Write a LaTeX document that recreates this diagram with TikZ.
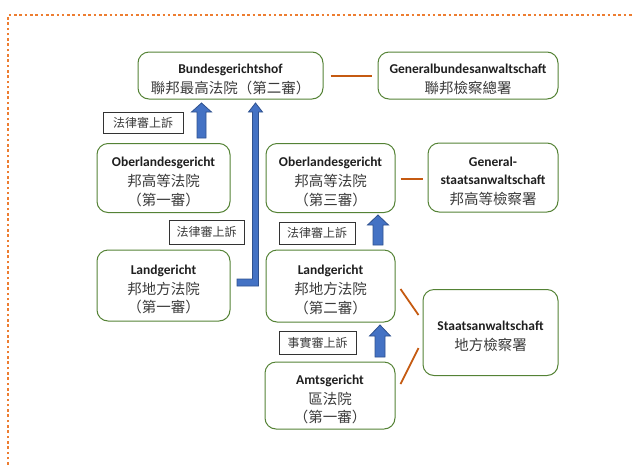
\documentclass[tikz,border=0pt]{standalone}
\usepackage{fontspec}
\setmainfont{Carlito}
\newfontfamily\cjk{Noto Sans CJK TC}
\usetikzlibrary{calc}
\definecolor{boxgreen}{HTML}{548235}
\definecolor{brownline}{HTML}{C55A11}
\definecolor{arrowfill}{HTML}{4472C4}
\definecolor{arrowedge}{HTML}{2F528F}
\definecolor{framecol}{HTML}{ED7D31}
\definecolor{txt}{HTML}{1F1F1F}
\definecolor{zhtxt}{HTML}{3A3A3A}
\newcommand\blkarrow[6]{%
  \filldraw[blk] (#1-#4,#2) -- (#1-#4,#3+#6) -- (#1-#5,#3+#6) -- (#1,#3) -- (#1+#5,#3+#6) -- (#1+#4,#3+#6) -- (#1+#4,#2) -- cycle;}
\tikzset{
  court/.style={draw=boxgreen, line width=1pt, rounded corners=11pt, align=center, text=txt, inner sep=0pt,
    font=\fontsize{13.5}{18.5}\selectfont\bfseries},
  lbl/.style={draw=black!80, line width=0.8pt, text=zhtxt, inner sep=0pt, font=\cjk\fontsize{12}{14}\selectfont},
  brn/.style={draw=brownline, line width=1.8pt},
  blk/.style={fill=arrowfill, draw=arrowedge, line width=0.8pt, line join=miter}
}
\newcommand\zh[1]{{\cjk\mdseries\color{zhtxt}\fontsize{14.5}{18.5}\selectfont #1}}
\newcommand\gl[1]{\rule{0pt}{17pt}#1\\[1.5pt]}
\begin{document}
\begin{tikzpicture}[x=1pt,y=-1pt]
\useasboundingbox (0,0) rectangle (634,464);
% dotted frame
\draw[framecol, line width=2.6pt, dash pattern=on 2.6pt off 2.7pt] (8,470) -- (8,15) -- (640,15);

% courts
\node[court, minimum width=185pt, minimum height=47pt] (bgh) at (230.5,75.5) {\gl{Bundesgerichtshof}\zh{聯邦最高法院（第二審）}};
\node[court, minimum width=180pt, minimum height=47pt] (gba) at (468,75.5) {\gl{Generalbundesanwaltschaft}\zh{聯邦檢察總署}};
\node[court, minimum width=133pt, minimum height=69pt] (olg1) at (163.5,178) {\gl{Oberlandesgericht}\zh{邦高等法院}\\\zh{（第一審）}};
\node[court, minimum width=129pt, minimum height=69pt] (olg2) at (330.5,178) {\gl{Oberlandesgericht}\zh{邦高等法院}\\\zh{（第三審）}};
\node[court, minimum width=130pt, minimum height=69pt] (gsa) at (493,177.5) {\rule{0pt}{17pt}General-\\\gl{staatsanwaltschaft}\zh{邦高等檢察署}};
\node[court, minimum width=133pt, minimum height=71pt] (lg1) at (163.5,285.5) {\gl{Landgericht}\zh{邦地方法院}\\\zh{（第一審）}};
\node[court, minimum width=129pt, minimum height=72pt] (lg2) at (330.5,286) {\gl{Landgericht}\zh{邦地方法院}\\\zh{（第二審）}};
\node[court, minimum width=130pt, minimum height=67pt] (ag) at (330,395.5) {\gl{Amtsgericht}\zh{區法院}\\\zh{（第一審）}};
\node[court, minimum width=135pt, minimum height=86pt] (sa) at (490.5,332.5) {\gl{Staatsanwaltschaft}\zh{地方檢察署}};

% labels
\node[lbl, minimum width=80pt, minimum height=21pt] (l1) at (143,122.5) {法律審上訴};
\node[lbl, minimum width=75pt, minimum height=24pt] (l2) at (206.5,232) {法律審上訴};
\node[lbl, minimum width=76pt, minimum height=22pt] (l3) at (317,233) {法律審上訴};
\node[lbl, minimum width=77pt, minimum height=23pt] (l4) at (317.5,342.5) {事實審上訴};

% brown connectors
\draw[brn] ($(bgh.east)+(7,0.5)$) -- ($(gba.west)+(-6,0.5)$);
\draw[brn] ($(olg2.east)+(5,1)$) -- ($(gsa.west)+(-5,1.5)$);
\draw[brn] ($(lg2.east)+(5,3)$) -- ($(sa.west)+(-4,-17.5)$);
\draw[brn] ($(ag.east)+(5,-11.5)$) -- ($(sa.west)+(-4,15.5)$);

% block arrows
\blkarrow{201.5}{138}{103}{4.5}{10}{9}
\blkarrow{378}{245}{215}{5}{10.5}{10}
\blkarrow{380}{357}{325}{5}{10.5}{11}
\filldraw[blk] (237,279) -- (252.5,279) -- (252.5,112) -- (248.5,112) -- (255.5,103) -- (262.5,112) -- (258.5,112) -- (258.5,286) -- (237,286) -- cycle;
\end{tikzpicture}
\end{document}
